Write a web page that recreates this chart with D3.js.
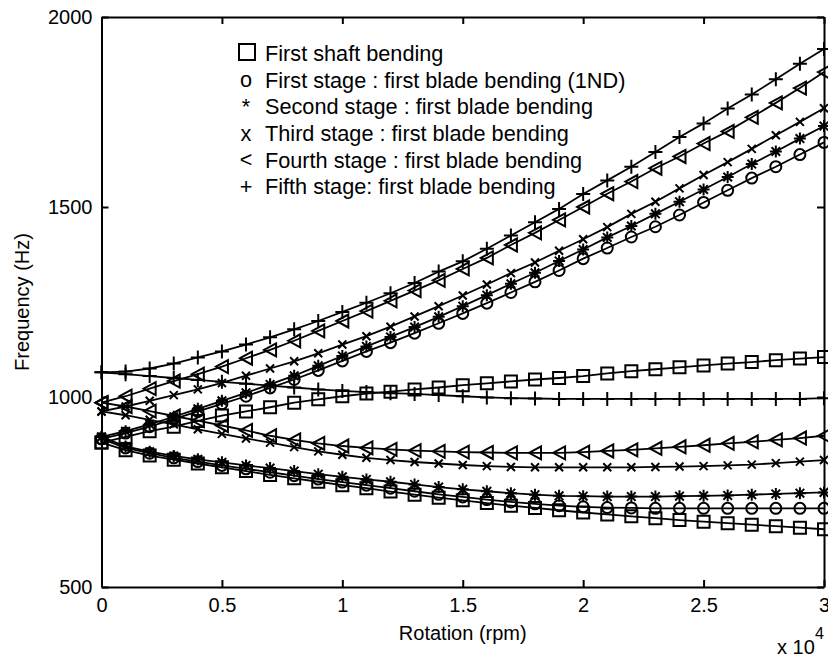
<!DOCTYPE html>
<html>
<head>
<meta charset="utf-8">
<script src="https://cdn.jsdelivr.net/npm/d3@7"></script>
<style>
  body { margin: 0; background: #fff; }
  text { font-family: "Liberation Sans", Arial, Helvetica, sans-serif; fill: #000; }
</style>
</head>
<body>
<div id="main"></div>
<script>
// rotation speed (rpm), one marker per 1000 rpm
const rpm = [0, 1000, 2000, 3000, 4000, 5000, 6000, 7000, 8000, 9000, 10000,
  11000, 12000, 13000, 14000, 15000, 16000, 17000, 18000, 19000, 20000,
  21000, 22000, 23000, 24000, 25000, 26000, 27000, 28000, 29000, 30000];

// first shaft bending (two whirl branches)
const squareUp = [880, 895, 910, 922, 937, 951, 962, 973, 985, 994, 1002, 1009, 1014, 1020, 1025, 1031, 1036, 1041, 1046, 1050, 1055, 1062, 1068, 1073, 1078, 1083, 1088, 1092, 1097, 1101, 1105];
const squareDown = [880, 860, 846, 835, 825, 815, 805, 795, 786, 777, 768, 760, 751, 743, 735, 728, 721, 714, 708, 702, 696, 691, 686, 681, 676, 672, 668, 664, 660, 656, 652];
// first stage : first blade bending (1ND)
const circleUp = [890, 905, 922, 942, 962, 982, 1002, 1024, 1046, 1070, 1095, 1120, 1143, 1168, 1194, 1220, 1247, 1275, 1303, 1333, 1364, 1392, 1421, 1448, 1479, 1512, 1544, 1576, 1606, 1638, 1670];
const circleDown = [890, 866, 852, 840, 830, 820, 811, 802, 793, 784, 776, 768, 760, 752, 744, 737, 730, 724, 719, 714, 711, 709, 708, 707, 707, 707, 707, 707, 707, 707, 707];
// second stage
const starUp = [895, 910, 928, 948, 969, 990, 1011, 1033, 1056, 1082, 1108, 1133, 1158, 1184, 1211, 1239, 1268, 1298, 1327, 1358, 1388, 1420, 1450, 1482, 1514, 1546, 1579, 1613, 1646, 1680, 1713];
const starDown = [895, 870, 856, 845, 836, 828, 820, 813, 805, 797, 790, 783, 777, 770, 763, 757, 752, 747, 743, 740, 739, 738, 738, 738, 739, 740, 741, 743, 745, 747, 749];
// third stage
const crossUp = [962, 975, 990, 1005, 1020, 1037, 1056, 1075, 1094, 1115, 1138, 1160, 1185, 1212, 1239, 1267, 1296, 1326, 1354, 1385, 1415, 1447, 1482, 1514, 1549, 1584, 1618, 1653, 1689, 1724, 1760];
const crossDown = [962, 952, 940, 928, 915, 903, 891, 880, 868, 857, 848, 840, 834, 829, 825, 821, 818, 816, 815, 815, 815, 815, 815, 816, 817, 818, 820, 822, 826, 830, 834];
// fourth stage
const triUp = [985, 1002, 1022, 1042, 1060, 1080, 1102, 1124, 1148, 1174, 1200, 1226, 1253, 1280, 1307, 1337, 1366, 1400, 1432, 1466, 1500, 1535, 1567, 1602, 1633, 1667, 1699, 1736, 1774, 1813, 1855];
const triDown = [985, 975, 963, 950, 938, 925, 912, 898, 887, 878, 871, 866, 862, 859, 857, 855, 854, 853, 853, 853, 855, 858, 861, 865, 869, 873, 878, 882, 887, 892, 898];
// fifth stage
const plusUp = [1065, 1067, 1075, 1088, 1104, 1120, 1138, 1157, 1178, 1200, 1224, 1248, 1273, 1300, 1330, 1357, 1390, 1425, 1460, 1495, 1534, 1570, 1606, 1645, 1684, 1720, 1759, 1796, 1836, 1877, 1916];
const plusDown = [1065, 1060, 1055, 1050, 1045, 1040, 1035, 1030, 1025, 1020, 1016, 1013, 1010, 1008, 1005, 1002, 999, 997, 996, 995, 995, 995, 995, 995, 995, 995, 995, 995, 995, 995, 997];

const xTicks = [0, 5000, 10000, 15000, 20000, 25000, 30000];
const yTicks = [500, 1000, 1500, 2000];
const legendSymbols = ["square", "o", "*", "x", "<", "+"];
const legendLabels = [
  "First shaft bending",
  "First stage : first blade bending (1ND)",
  "Second stage : first blade bending",
  "Third stage : first blade bending",
  "Fourth stage : first blade bending",
  "Fifth stage: first blade bending"
];

const series = [
  { values: squareUp, marker: "square" }, { values: squareDown, marker: "square" },
  { values: circleUp, marker: "circle" }, { values: circleDown, marker: "circle" },
  { values: starUp, marker: "star" }, { values: starDown, marker: "star" },
  { values: crossUp, marker: "cross" }, { values: crossDown, marker: "cross" },
  { values: triUp, marker: "tri" }, { values: triDown, marker: "tri" },
  { values: plusUp, marker: "plus" }, { values: plusDown, marker: "plus" }
];

const svgWidth = 828, svgHeight = 659;
const plotLeft = 101.5, plotRight = 824, plotTop = 17, plotBottom = 587;

const svg = d3.select("#main").append("svg")
  .attr("width", svgWidth).attr("height", svgHeight)
  .style("background", "#fff");

const x = d3.scaleLinear().domain([0, 30000]).range([plotLeft, plotRight]);
const y = d3.scaleLinear().domain([500, 2000]).range([plotBottom, plotTop]);

// marker shapes, drawn as paths around (0,0)
const markerPath = {
  square: "M-6,-6H6V6H-6Z",
  circle: "M5.5,0A5.5,5.5 0 1 1 -5.5,0A5.5,5.5 0 1 1 5.5,0Z",
  tri: "M-6,0L6,-6.5L6,6.5Z",
  plus: "M-7,0H7M0,-7V7",
  cross: "M-4,-4L4,4M-4,4L4,-4",
  star: "M-6,0H6M0,-6V6M-4.3,-4.3L4.3,4.3M-4.3,4.3L4.3,-4.3"
};

const line = d3.line()
  .x((d, i) => x(rpm[i]))
  .y(d => y(d));

const plot = svg.append("g");
series.forEach(function (s) {
  plot.append("path")
    .attr("d", line(s.values))
    .attr("fill", "none")
    .attr("stroke", "#000")
    .attr("stroke-width", 1.8);
  plot.selectAll(null).data(s.values)
    .enter().append("path")
    .attr("d", markerPath[s.marker])
    .attr("transform", (d, i) => "translate(" + x(rpm[i]) + "," + y(d) + ")")
    .attr("fill", "none")
    .attr("stroke", "#000")
    .attr("stroke-width", 2);
});

// axes, ticks pointing inside like matlab
const fmtX = d => d / 10000;
const axes = [
  svg.append("g").attr("transform", "translate(0," + plotBottom + ")")
    .call(d3.axisBottom(x).tickValues(xTicks).tickFormat(fmtX).tickSizeInner(-7).tickSizeOuter(0).tickPadding(11)),
  svg.append("g").attr("transform", "translate(0," + plotTop + ")")
    .call(d3.axisTop(x).tickValues(xTicks).tickFormat("").tickSizeInner(-7).tickSizeOuter(0)),
  svg.append("g").attr("transform", "translate(" + plotLeft + ",0)")
    .call(d3.axisLeft(y).tickValues(yTicks).tickFormat(d3.format("d")).tickSizeInner(-7).tickSizeOuter(0).tickPadding(9)),
  svg.append("g").attr("transform", "translate(" + plotRight + ",0)")
    .call(d3.axisRight(y).tickValues(yTicks).tickFormat("").tickSizeInner(-7).tickSizeOuter(0))
];
axes.forEach(function (g) {
  g.select(".domain").attr("stroke", "#000").attr("stroke-width", 2);
  g.selectAll(".tick line").attr("stroke", "#000").attr("stroke-width", 2);
  g.selectAll(".tick text").attr("font-size", 20).attr("fill", "#000")
    .style("font-family", "'Liberation Sans', Arial, sans-serif");
});

// axis labels
svg.append("text")
  .attr("x", (plotLeft + plotRight) / 2).attr("y", 640)
  .attr("text-anchor", "middle").attr("font-size", 20)
  .text("Rotation (rpm)");
svg.append("text")
  .attr("transform", "translate(29," + (plotTop + plotBottom) / 2 + ") rotate(-90)")
  .attr("text-anchor", "middle").attr("font-size", 20)
  .text("Frequency (Hz)");
svg.append("text")
  .attr("x", 777).attr("y", 654).attr("font-size", 20)
  .text("x 10");
svg.append("text")
  .attr("x", 815).attr("y", 639).attr("font-size", 16)
  .text("4");

// legend
const legend = svg.append("g");
legendLabels.forEach(function (label, i) {
  const cy = 53 + i * 26.7;
  if (legendSymbols[i] === "square") {
    legend.append("rect")
      .attr("x", 239).attr("y", cy - 9).attr("width", 16).attr("height", 16)
      .attr("fill", "none").attr("stroke", "#000").attr("stroke-width", 2);
  } else {
    legend.append("text")
      .attr("x", 246).attr("y", cy + 7.5)
      .attr("text-anchor", "middle").attr("font-size", 21.7)
      .text(legendSymbols[i]);
  }
  legend.append("text")
    .attr("x", 265).attr("y", cy + 7.8)
    .attr("font-size", 21.7)
    .text(label);
});
</script>
</body>
</html>
